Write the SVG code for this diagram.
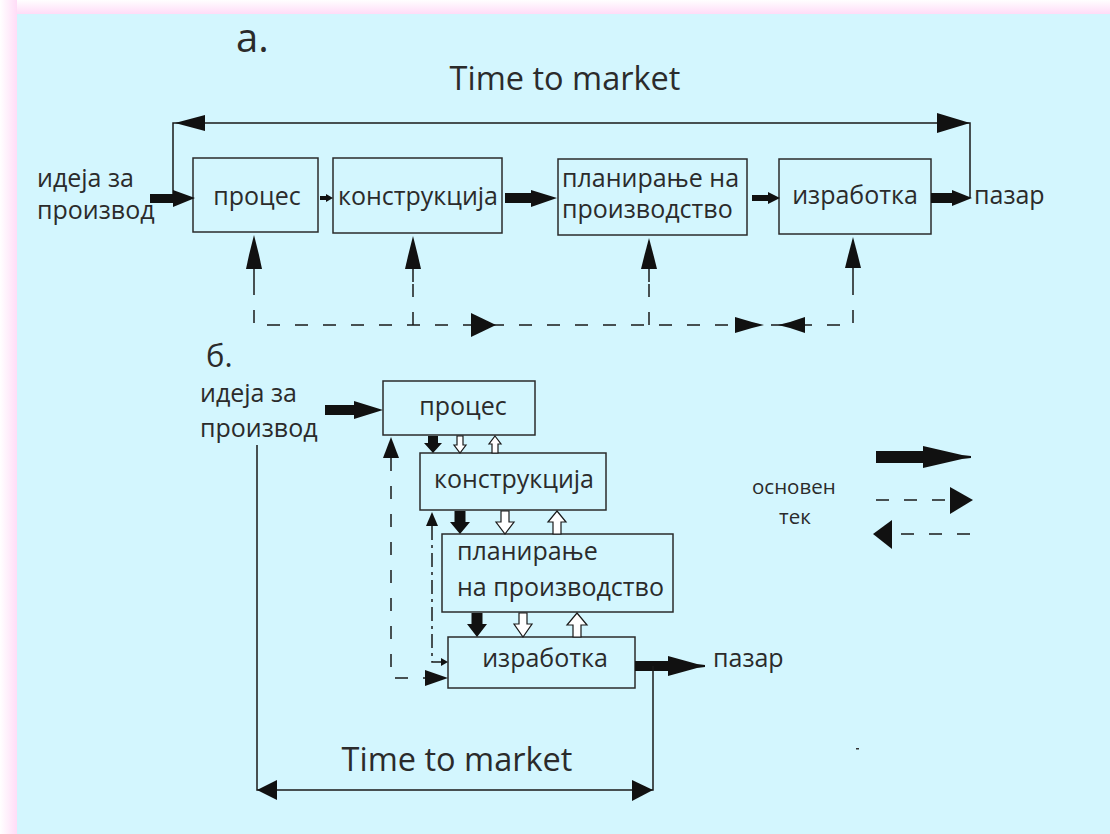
<svg xmlns="http://www.w3.org/2000/svg" width="1110" height="834" viewBox="0 0 1110 834">
  <defs>
    <linearGradient id="gTop" x1="0" y1="0" x2="0" y2="1">
      <stop offset="0" stop-color="#ffffff"/>
      <stop offset="1" stop-color="#ffdcf7"/>
    </linearGradient>
    <linearGradient id="gLeft" x1="0" y1="0" x2="1" y2="0">
      <stop offset="0" stop-color="#ffffff"/>
      <stop offset="1" stop-color="#ffdcf7"/>
    </linearGradient>
    <style>
      .t { font-family: "Open Sans", "Noto Sans", "DejaVu Sans", sans-serif; fill: #2b2b2b; }
      .lb { font-size: 25px; }
      .box { fill: none; stroke: #2b2b2b; stroke-width: 1.5; }
      .ln { fill: none; stroke: #1a1a1a; stroke-width: 1.5; }
      .dash { fill: none; stroke: #1a1a1a; stroke-width: 1.5; stroke-dasharray: 13 15; }
      .dash2 { fill: none; stroke: #1a1a1a; stroke-width: 1.5; stroke-dasharray: 14 5 3 5; }
      .sol { fill: #111; stroke: none; }
      .hol { fill: #ffffff; stroke: #1a1a1a; stroke-width: 1.2; }
    </style>
  </defs>

  <!-- background -->
  <rect x="0" y="0" width="1110" height="834" fill="#ffdcf7"/>
  <rect x="0" y="0" width="1110" height="14" fill="url(#gTop)"/>
  <rect x="0" y="0" width="17" height="834" fill="url(#gLeft)"/>
  <rect x="17" y="14" width="1093" height="820" fill="#d3f6fe"/>

  <!-- titles -->
  <text class="t" x="236" y="52" font-size="40">а.</text>
  <text class="t" x="565" y="90" font-size="32.5" text-anchor="middle">Time to market</text>
  <text class="t" x="206" y="367" font-size="31">б.</text>
  <text class="t" x="457" y="771" font-size="32.5" text-anchor="middle">Time to market</text>

  <!-- part a nodes -->
  <g id="a-input">
    <text class="t lb" x="37" y="187">идеја за</text>
    <text class="t lb" x="37" y="219">производ</text>
  </g>
  <g id="a-proces">
    <rect class="box" x="193" y="158" width="125" height="74"/>
    <text class="t lb" x="257" y="205" text-anchor="middle">процес</text>
  </g>
  <g id="a-konstrukcija">
    <rect class="box" x="333" y="158" width="169" height="75"/>
    <text class="t lb" x="418" y="205" text-anchor="middle">конструкција</text>
  </g>
  <g id="a-planiranje">
    <rect class="box" x="558" y="159" width="189" height="76"/>
    <text class="t lb" x="562" y="187">планирање на</text>
    <text class="t lb" x="562" y="218">производство</text>
  </g>
  <g id="a-izrabotka">
    <rect class="box" x="779" y="159" width="152" height="75"/>
    <text class="t lb" x="855" y="204" text-anchor="middle">изработка</text>
  </g>
  <g id="a-pazar">
    <text class="t lb" x="974" y="204">пазар</text>
  </g>

  <!-- part b nodes -->
  <g id="b-input">
    <text class="t lb" x="200" y="402">идеја за</text>
    <text class="t lb" x="200" y="437">производ</text>
  </g>
  <g id="b-proces">
    <rect class="box" x="383" y="381" width="152" height="54"/>
    <text class="t lb" x="463" y="415" text-anchor="middle">процес</text>
  </g>
  <g id="b-konstrukcija">
    <rect class="box" x="420" y="453" width="186" height="57"/>
    <text class="t lb" x="514" y="488" text-anchor="middle">конструкција</text>
  </g>
  <g id="b-planiranje">
    <rect class="box" x="442" y="534" width="231" height="78"/>
    <text class="t lb" x="457" y="560">планирање</text>
    <text class="t lb" x="457" y="596">на производство</text>
  </g>
  <g id="b-izrabotka">
    <rect class="box" x="448" y="637" width="187" height="51"/>
    <text class="t lb" x="545" y="667" text-anchor="middle">изработка</text>
  </g>
  <g id="b-pazar">
    <text class="t lb" x="713" y="667">пазар</text>
  </g>

  <!-- legend -->
  <g id="legend">
    <polygon class="sol" points="876,451 923,451 923,446 962,455 971,456 971,458 962,459 923,468 923,463 876,463"/>
    <path class="dash" d="M876,500 H950" stroke-dasharray="8 10"/>
    <polygon class="sol" points="950,487 973,500 950,514"/>
    <path class="dash" d="M970,534 H892" stroke-dasharray="8 10"/>
    <polygon class="sol" points="892,520 873,534 892,549"/>
    <text class="t" x="752" y="494" font-size="20.5">основен</text>
    <text class="t" x="779" y="524" font-size="20.5">тек</text>
  </g>

  <!-- connectors -->
  <g id="connectors">
    <!-- part a: time to market bracket -->
    <path class="ln" d="M173,198 V123 H970 V198"/>
    <polygon class="sol" points="175,123 205,115 205,131"/>
    <polygon class="sol" points="970,123 937,113 937,133"/>

    <!-- part a: main flow -->
    <polygon class="sol" points="150,194 173,194 173,190 195,198 173,207 173,203 150,203"/>
    <polygon class="sol" points="320,196 326,196 326,194 333,198 326,202 326,200 320,200"/>
    <polygon class="sol" points="505,193 531,193 531,190 557,198 531,207 531,203 505,203"/>
    <polygon class="sol" points="752,195 768,195 768,192 780,198 768,204 768,201 752,201"/>
    <polygon class="sol" points="931,193 952,193 952,190 972,198 952,206 952,203 931,203"/>

    <!-- part a: dashed feedback -->
    <path class="dash" d="M254,282 V325 H853 V282"/>
    <path class="dash" d="M413,325 V282"/>
    <path class="dash" d="M649,325 V282"/>
    <path class="ln" d="M254,282 V266 M413,282 V266 M649,282 V266 M853,282 V266"/>
    <polygon class="sol" points="254,235 259,255 262,269 246,269 249,255"/>
    <polygon class="sol" points="413,236 418,256 421,269 405,269 408,256"/>
    <polygon class="sol" points="649,238 654,257 657,269 641,269 644,257"/>
    <polygon class="sol" points="853,237 858,256 861,268 845,268 848,256"/>
    <polygon class="sol" points="471,313 496,325 471,337"/>
    <polygon class="sol" points="735,317 752,322 764,325 752,328 735,333"/>
    <polygon class="sol" points="778,325 790,322 805,317 805,333 790,328"/>

    <!-- part b: input and output -->
    <polygon class="sol" points="325,405 354,405 354,401 383,410 354,419 354,415 325,415"/>
    <polygon class="sol" points="635,661 668,661 668,656 697,664 705,665 705,667 697,668 668,676 668,671 635,671"/>

    <!-- part b: solid down arrows -->
    <polygon class="sol" points="428,436 438,436 438,443 442,443 433,453 424,443 428,443"/>
    <polygon class="sol" points="454.5,511 465.5,511 465.5,522 470,522 460,534 450,522 454.5,522"/>
    <polygon class="sol" points="471.5,613 482.5,613 482.5,624 487,624 477,637 467,624 471.5,624"/>

    <!-- part b: hollow arrows -->
    <polygon class="hol" points="457,436 463,436 463,445 466,445 460,453 454,445 457,445"/>
    <polygon class="hol" points="495,436 501,444 498,444 498,453 492,453 492,444 489,444"/>
    <polygon class="hol" points="501,511 509,511 509,522 514,522 505,534 496,522 501,522"/>
    <polygon class="hol" points="557,511 566,522 561,522 561,534 553,534 553,522 548,522"/>
    <polygon class="hol" points="519,613 527,613 527,624 532,624 523,637 514,624 519,624"/>
    <polygon class="hol" points="577,613 587,625 581,625 581,637 573,637 573,625 567,625"/>

    <!-- part b: dashed feedback -->
    <path class="dash" d="M391,458 V678 H425"/>
    <polygon class="sol" points="391,437 399,458 383,458"/>
    <polygon class="sol" points="425,670 448,678 425,686"/>
    <path class="dash2" d="M432,526 V662 H441"/>
    <polygon class="sol" points="432,512 438,526 426,526"/>
    <polygon class="sol" points="441,658 448,662 441,666"/>

    <!-- part b: time to market bracket -->
    <path class="ln" d="M257,445 V790 H653 V666"/>
    <polygon class="sol" points="257,790 277,780 277,800"/>
    <polygon class="sol" points="653,790 632,780 632,801"/>
  </g>

  <rect x="856" y="748" width="3" height="1.5" fill="#333"/>
</svg>
